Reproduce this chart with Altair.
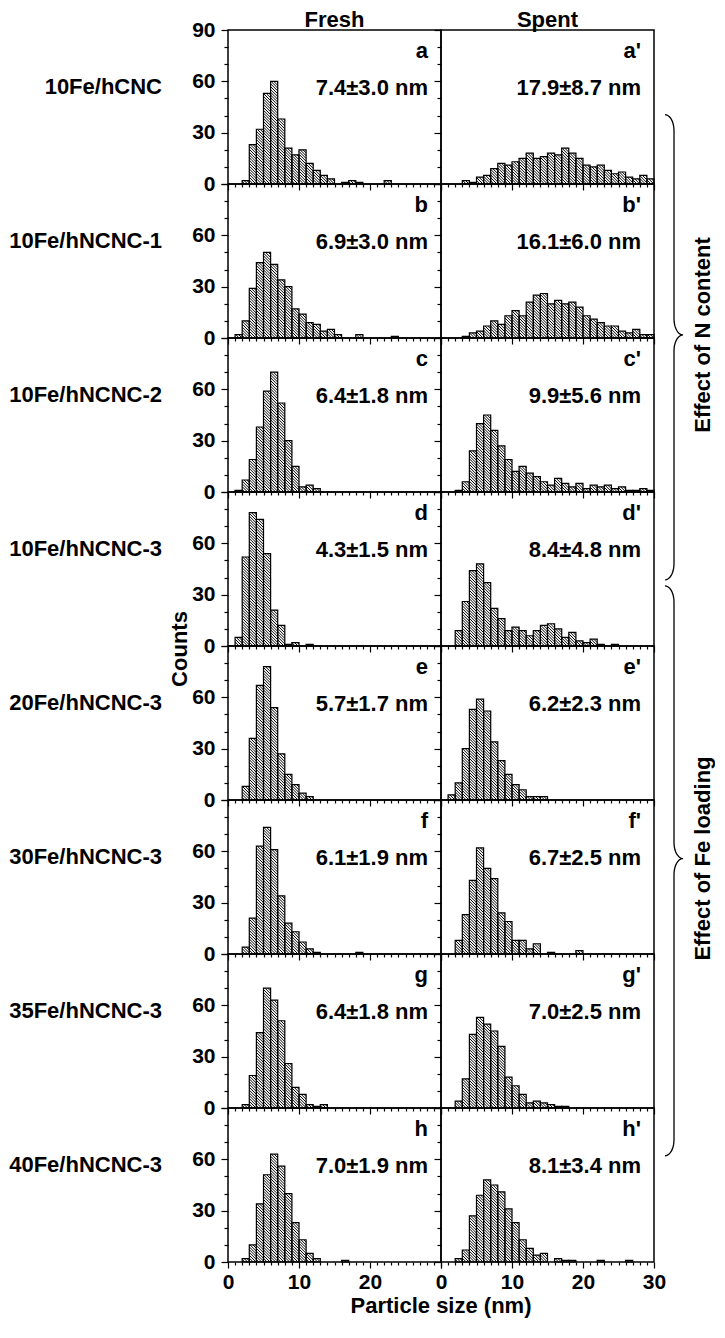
import math
import altair as alt
import pandas as pd

# ---------------- data ----------------
SAMPLES = ["10Fe/hCNC", "10Fe/hNCNC-1", "10Fe/hNCNC-2", "10Fe/hNCNC-3",
           "20Fe/hNCNC-3", "30Fe/hNCNC-3", "35Fe/hNCNC-3", "40Fe/hNCNC-3"]
COLUMNS = ["Fresh", "Spent"]
FRESH_LETTERS = ["a", "b", "c", "d", "e", "f", "g", "h"]
SPENT_LETTERS = ["a'", "b'", "c'", "d'", "e'", "f'", "g'", "h'"]
FRESH_STATS = ["7.4±3.0 nm", "6.9±3.0 nm", "6.4±1.8 nm", "4.3±1.5 nm",
               "5.7±1.7 nm", "6.1±1.9 nm", "6.4±1.8 nm", "7.0±1.9 nm"]
SPENT_STATS = ["17.9±8.7 nm", "16.1±6.0 nm", "9.9±5.6 nm", "8.4±4.8 nm",
               "6.2±2.3 nm", "6.7±2.5 nm", "7.0±2.5 nm", "8.1±3.4 nm"]
BIN_START = list(range(30))          # 1-nm bins: [k, k+1)
X_TICKS = list(range(0, 31))
Y_TICKS = list(range(0, 91, 10))
X_TITLE = "Particle size (nm)"
Y_TITLE = "Counts"
BRACE_LABELS = ["Effect of N content", "Effect of Fe loading"]
BRACE_TOP = [0.55, 3.61]      # in panel-row units from the top
BRACE_TIP = [1.98, 5.38]
BRACE_BOTTOM = [3.57, 7.31]

FRESH_A = [0, 0, 2, 23, 32, 53, 60, 38, 21, 17, 20, 12, 8, 5, 3, 0, 1, 2, 1, 0, 0, 0, 2, 0, 0, 0, 0, 0, 0, 0]
SPENT_A = [0, 0, 0, 2, 1, 4, 5, 9, 12, 11, 13, 15, 18, 15, 16, 18, 17, 21, 18, 15, 11, 10, 11, 8, 6, 7, 4, 3, 5, 3]
FRESH_B = [0, 2, 10, 29, 44, 50, 43, 34, 30, 17, 14, 9, 8, 4, 5, 2, 0, 0, 2, 0, 0, 0, 0, 1, 0, 0, 0, 0, 0, 0]
SPENT_B = [0, 0, 0, 1, 3, 4, 7, 10, 8, 13, 16, 13, 21, 25, 26, 20, 22, 20, 21, 18, 13, 11, 9, 7, 7, 4, 3, 5, 2, 2]
FRESH_C = [0, 1, 7, 19, 38, 59, 70, 52, 30, 15, 3, 4, 2, 0, 0, 0, 0, 0, 0, 0, 0, 0, 0, 0, 0, 0, 0, 0, 0, 0]
SPENT_C = [0, 0, 1, 6, 24, 40, 45, 36, 27, 19, 12, 15, 11, 9, 6, 4, 8, 5, 3, 5, 2, 4, 3, 4, 2, 3, 1, 1, 2, 1]
FRESH_D = [0, 5, 52, 78, 74, 54, 21, 12, 1, 2, 0, 1, 0, 0, 0, 0, 0, 0, 0, 0, 0, 0, 0, 0, 0, 0, 0, 0, 0, 0]
SPENT_D = [0, 0, 9, 26, 44, 48, 37, 22, 16, 9, 11, 9, 6, 9, 12, 13, 10, 5, 8, 3, 2, 4, 1, 0, 1, 0, 0, 0, 0, 0]
FRESH_E = [0, 0, 8, 36, 67, 78, 54, 27, 15, 9, 4, 2, 0, 0, 0, 0, 0, 0, 0, 0, 0, 0, 0, 0, 0, 0, 0, 0, 0, 0]
SPENT_E = [0, 3, 10, 30, 53, 59, 52, 34, 23, 15, 9, 6, 2, 2, 2, 0, 0, 0, 0, 0, 0, 0, 0, 0, 0, 0, 0, 0, 0, 0]
FRESH_F = [0, 0, 4, 21, 63, 74, 61, 34, 18, 13, 7, 3, 1, 0, 0, 0, 0, 0, 1, 0, 0, 0, 0, 0, 0, 0, 0, 0, 0, 0]
SPENT_F = [0, 0, 8, 23, 43, 62, 50, 44, 24, 19, 8, 8, 3, 6, 0, 1, 0, 0, 0, 2, 0, 0, 0, 0, 0, 0, 0, 0, 0, 0]
FRESH_G = [0, 0, 2, 19, 44, 70, 63, 51, 26, 12, 8, 2, 1, 2, 0, 0, 0, 0, 0, 0, 0, 0, 0, 0, 0, 0, 0, 0, 0, 0]
SPENT_G = [0, 0, 4, 17, 43, 53, 49, 45, 36, 18, 13, 8, 3, 4, 3, 2, 1, 1, 0, 0, 0, 0, 0, 0, 0, 0, 0, 0, 0, 0]
FRESH_H = [0, 0, 2, 10, 34, 51, 63, 56, 40, 23, 13, 5, 2, 0, 0, 0, 1, 0, 0, 0, 0, 0, 0, 0, 0, 0, 0, 0, 0, 0]
SPENT_H = [0, 0, 2, 7, 27, 39, 48, 45, 41, 31, 23, 13, 8, 4, 5, 0, 2, 1, 1, 0, 0, 0, 1, 0, 0, 0, 1, 0, 0, 0]

FRESH = [FRESH_A, FRESH_B, FRESH_C, FRESH_D, FRESH_E, FRESH_F, FRESH_G, FRESH_H]
SPENT = [SPENT_A, SPENT_B, SPENT_C, SPENT_D, SPENT_E, SPENT_F, SPENT_G, SPENT_H]

# ---------------- layout / style ----------------
W, H = 213, 154
KX, KY = W / 30.0, H / 90.0
HATCH_STEP = 2.8
FONT = "Liberation Sans"
FS = 22

xs = alt.Scale(domain=[0, 30], nice=False)
ys = alt.Scale(domain=[0, 90], nice=False)


def hatch_lines(df):
    rows = []
    for x0, n in zip(df["x0"], df["n"]):
        X0, X1 = x0 * KX, (x0 + 1) * KX
        Ht = n * KY
        k0 = int(math.floor(X0 / HATCH_STEP)) + 1
        k1 = int(math.ceil((X1 + Ht) / HATCH_STEP))
        for k in range(k0, k1):
            c = k * HATCH_STEP
            xa = max(X0, c - Ht)
            xb = min(X1, c)
            if xb - xa < 0.3:
                continue
            rows.append({"hx0": xa / KX, "hx1": xb / KX,
                         "hy0": (c - xa) / KY, "hy1": (c - xb) / KY})
    return pd.DataFrame(rows)


def x_axis(show, fresh):
    expr = ("datum.value % 10 === 0 && datum.value < 30 ? datum.label : ''" if fresh
            else "datum.value % 10 === 0 ? datum.label : ''")
    return alt.Axis(values=X_TICKS, labels=show, labelExpr=expr, labelFlush=False,
                    labelOverlap=False, labelPadding=3, domain=False, grid=False,
                    tickSize={"condition": {"test": "datum.value % 10 === 0", "value": 6}, "value": 3})


def y_axis(show, top):
    expr = ("datum.value % 30 === 0 ? datum.label : ''" if top
            else "datum.value % 30 === 0 && datum.value < 90 ? datum.label : ''")
    return alt.Axis(values=Y_TICKS, labels=show, labelExpr=expr, labelFlush=False,
                    labelOverlap=False, labelPadding=6, domain=False, grid=False,
                    tickSize={"condition": {"test": "datum.value % 30 === 0", "value": 7}, "value": 4})


def text_layer(txt, x, y, align="center", baseline="alphabetic", angle=0, size=FS):
    props = dict(align=align, baseline=baseline, font=FONT, fontSize=size,
                 fontWeight="bold", color="black")
    if angle:
        props["angle"] = angle
    return alt.Chart(pd.DataFrame({"t": [txt]})).mark_text(**props).encode(
        x=alt.value(x), y=alt.value(y), text="t:N")


def brace_points(top, tip, bottom, bid):
    yt, ym, yb = top * H, tip * H, bottom * H
    xs_, xe, xt, ry = 20.0, 11.0, 29.0, 16.0
    dx = xs_ - xe
    pts = []
    n = 10
    for j in range(n + 1):
        t = (math.pi / 2) * j / n
        pts.append((xe + dx * math.sin(t), yt + ry - ry * math.cos(t)))
    for j in range(n + 1):
        t = (math.pi / 2) * j / n
        pts.append((xt - dx * math.cos(t), ym - ry + ry * math.sin(t)))
    for j in range(1, n + 1):
        t = (math.pi / 2) * j / n
        pts.append((xt - dx * math.sin(t), ym + ry - ry * math.cos(t)))
    for j in range(n + 1):
        t = (math.pi / 2) * j / n
        pts.append((xe + dx * math.cos(t), yb - ry + ry * math.sin(t)))
    return [{"brace": bid, "i": i, "bx": p[0], "by": p[1]} for i, p in enumerate(pts)]


def brace_layer():
    brace_rows = []
    for b in range(len(BRACE_LABELS)):
        brace_rows += brace_points(BRACE_TOP[b], BRACE_TIP[b], BRACE_BOTTOM[b], b)
    brace_df = pd.DataFrame(brace_rows)
    brace_txt = pd.DataFrame({"t": BRACE_LABELS, "ty": [v * H for v in BRACE_TIP],
                              "tx": [49, 49]})
    # x measured in pixels to the right of the panel's right edge, y in pixels from its top
    bx_scale = alt.Scale(domain=[-W, 0], nice=False, zero=False)
    by_scale = alt.Scale(domain=[0, H], nice=False, zero=False, reverse=True)
    lines = alt.Chart(brace_df).mark_line(color="black", strokeWidth=1.3).encode(
        x=alt.X("bx:Q", scale=bx_scale, axis=None),
        y=alt.Y("by:Q", scale=by_scale, axis=None),
        detail="brace:N", order="i:Q")
    txt = alt.Chart(brace_txt).mark_text(
        angle=270, align="center", baseline="middle", font=FONT, fontSize=FS,
        fontWeight="bold", color="black").encode(
        x=alt.X("tx:Q", scale=bx_scale, axis=None),
        y=alt.Y("ty:Q", scale=by_scale, axis=None), text="t:N")
    return alt.layer(lines, txt)


def panel(counts, letter, stat, row, fresh):
    df = pd.DataFrame({"x0": BIN_START, "n": counts})
    df = df[df["n"] > 0].copy()
    df["x1"] = df["x0"] + 1
    hdf = hatch_lines(df)
    xa = x_axis(row == 7, fresh)
    ya = y_axis(fresh, row == 0)
    hatch = alt.Chart(hdf).mark_rule(color="black", strokeWidth=1.0).encode(
        x=alt.X("hx0:Q", scale=xs, axis=xa, title=None), x2="hx1:Q",
        y=alt.Y("hy0:Q", scale=ys, axis=ya, title=None), y2="hy1:Q")
    bars = alt.Chart(df).mark_rect(fillOpacity=0, stroke="black", strokeWidth=1.2).encode(
        x=alt.X("x0:Q", scale=xs, axis=xa, title=None), x2="x1:Q",
        y=alt.Y("n:Q", scale=ys, axis=ya, title=None), y2=alt.datum(0))
    layers = [hatch, bars,
              text_layer(letter, W - 13, 28, align="right"),
              text_layer(stat, W - 13, 65, align="right")]
    if row == 0:
        layers.append(text_layer(COLUMNS[0] if fresh else COLUMNS[1], W / 2, -3))
    if fresh:
        layers.append(text_layer(SAMPLES[row], -66, 57, align="right", baseline="middle"))
        if row == 3:
            layers.append(text_layer(Y_TITLE, -48, H + 3, baseline="middle", angle=270))
        if row == 7:
            layers.append(text_layer(X_TITLE, W, H + 51))
    main = alt.layer(*layers)
    if row == 0 and not fresh:
        return alt.layer(main, brace_layer()).resolve_scale(
            x="independent", y="independent").properties(width=W, height=H)
    return main.properties(width=W, height=H)


panels = []
for i in range(8):
    panels.append(panel(FRESH[i], FRESH_LETTERS[i], FRESH_STATS[i], i, True))
    panels.append(panel(SPENT[i], SPENT_LETTERS[i], SPENT_STATS[i], i, False))

chart = alt.concat(*panels, columns=2, spacing=0, bounds="flush").properties(
    padding=0, background="white"
).configure_view(
    stroke="black", strokeWidth=1.5
).configure_axis(
    tickColor="black", tickWidth=1.2, labelColor="black", labelFont=FONT,
    labelFontSize=21, labelFontWeight="bold"
)

chart.save("out.html", embed_options={"renderer": "svg", "actions": False})
